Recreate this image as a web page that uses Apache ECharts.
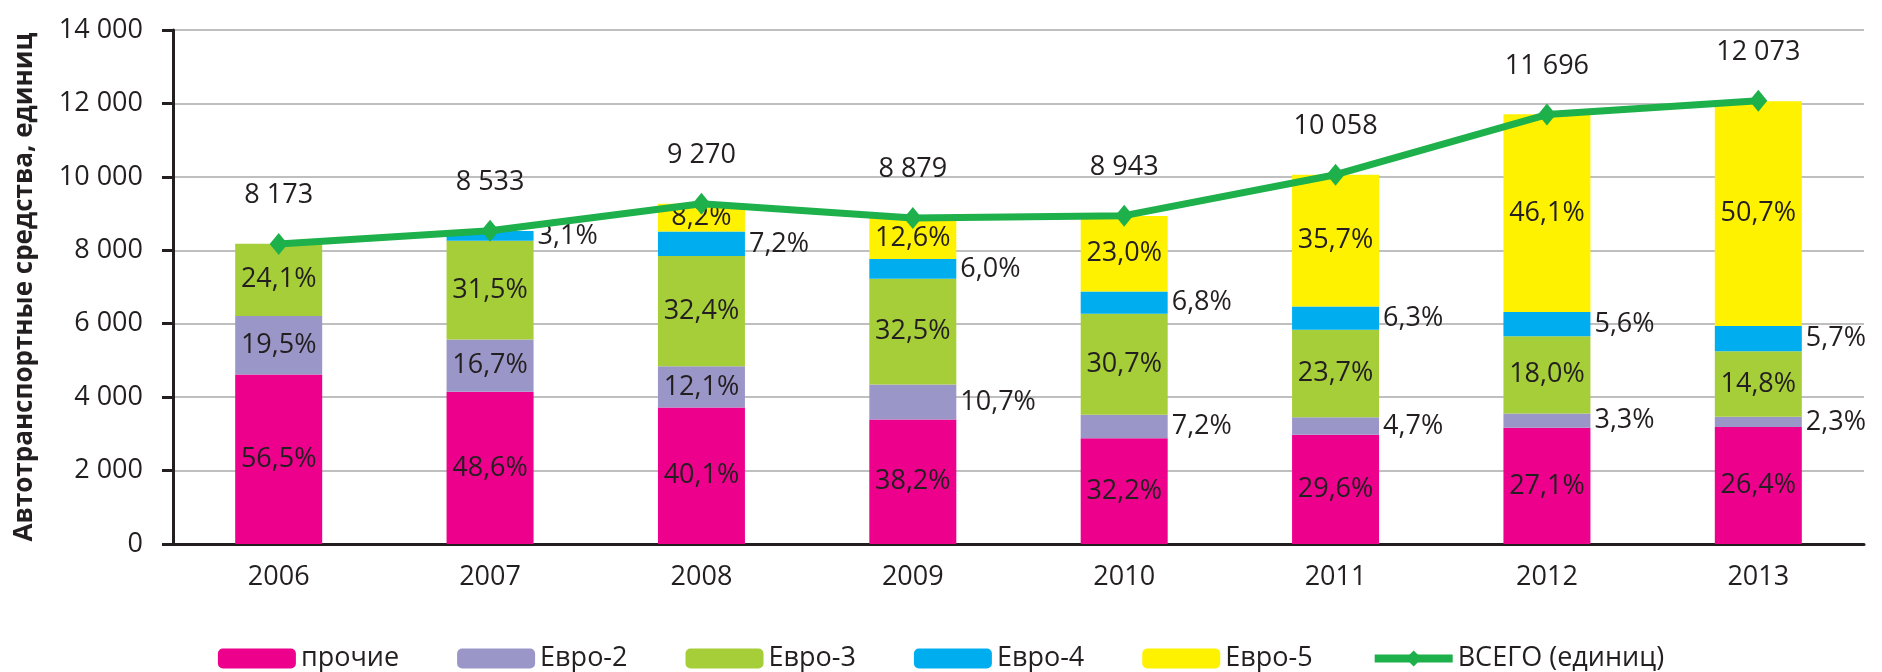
<!DOCTYPE html>
<html>
<head>
<meta charset="utf-8">
<title>Автотранспортные средства</title>
<script src="https://cdn.jsdelivr.net/npm/echarts@6/dist/echarts.min.js"></script>
<style>
	html, body { margin: 0; padding: 0; background: #fff; }
	#chart { width: 1882px; height: 672px; }
</style>
</head>
<body>
<div id="chart"></div>
<script>
	// годы и итог по парку (единиц)
	var years = ['2006', '2007', '2008', '2009', '2010', '2011', '2012', '2013'];
	var totals = [8173, 8533, 9270, 8879, 8943, 10058, 11696, 12073];

	// доли экологических классов, %
	var shareOther = [56.5, 48.6, 40.1, 38.2, 32.2, 29.6, 27.1, 26.4];
	var shareEuro2 = [19.5, 16.7, 12.1, 10.7, 7.2, 4.7, 3.3, 2.3];
	var shareEuro3 = [24.1, 31.5, 32.4, 32.5, 30.7, 23.7, 18.0, 14.8];
	var shareEuro4 = [0, 3.1, 7.2, 6.0, 6.8, 6.3, 5.6, 5.7];
	var shareEuro5 = [0, 0, 8.2, 12.6, 23.0, 35.7, 46.1, 50.7];

	var yTicks = [0, 2000, 4000, 6000, 8000, 10000, 12000, 14000];

	var textColor = '#231F20';
	var fontFamily = '"Open Sans", "Liberation Sans", sans-serif';

	function spaced(v) {
		return String(v).replace(/\B(?=(\d{3})+(?!\d))/g, ' ');
	}
	function pct(v) {
		return v.toFixed(1).replace('.', ',') + '%';
	}

	// строит сегменты стека: доля * итог
	function segment(shares, labelPos) {
		var out = [];
		for (var i = 0; i < shares.length; i++) {
			var item = {
				value: totals[i] * shares[i] / 100,
				share: shares[i]
			};
			var pos = typeof labelPos === 'function' ? labelPos(shares[i]) : labelPos;
			item.label = { position: pos };
			out.push(item);
		}
		return out;
	}

	function barSeries(name, color, shares, labelPos) {
		return {
			name: name,
			type: 'bar',
			stack: 'total',
			barWidth: 87,
			itemStyle: { color: color },
			label: {
				show: true,
				color: textColor,
				fontFamily: fontFamily,
				fontSize: 27,
				distance: 4,
				formatter: function (p) {
					return p.data.share > 0 ? pct(p.data.share) : '';
				}
			},
			data: segment(shares, labelPos)
		};
	}

	var chart = echarts.init(document.getElementById('chart'));
	chart.setOption({
		animation: false,
		backgroundColor: '#fff',
		textStyle: { fontFamily: fontFamily, color: textColor },
		grid: { left: 173, right: 18, top: 30, bottom: 128 },
		legend: {
			left: 'center',
			top: 640,
			itemWidth: 78,
			itemHeight: 20,
			itemGap: 58,
			textStyle: { color: textColor, fontSize: 27, fontFamily: fontFamily },
			data: [
				'прочие', 'Евро-2', 'Евро-3', 'Евро-4', 'Евро-5',
				{ name: 'ВСЕГО (единиц)', lineStyle: { width: 8 } }
			]
		},
		xAxis: {
			type: 'category',
			data: years,
			axisLine: { lineStyle: { color: '#231F20', width: 3 } },
			axisTick: { length: 11, lineStyle: { color: '#231F20', width: 3 } },
			axisLabel: { color: textColor, fontSize: 27, margin: 20, fontFamily: fontFamily }
		},
		yAxis: {
			type: 'value',
			min: yTicks[0],
			max: yTicks[yTicks.length - 1],
			interval: yTicks[1] - yTicks[0],
			name: 'Автотранспортные средства, единиц',
			nameLocation: 'middle',
			nameGap: 135,
			nameTextStyle: { fontSize: 26, fontWeight: 'bold', color: textColor, fontFamily: fontFamily },
			axisLine: { show: true, lineStyle: { color: '#231F20', width: 3 } },
			axisTick: { show: true, length: 11, lineStyle: { color: '#231F20', width: 3 } },
			axisLabel: {
				color: textColor, fontSize: 27, margin: 30, fontFamily: fontFamily,
				formatter: function (v) { return spaced(v); }
			},
			splitLine: { lineStyle: { color: '#BFBFBF', width: 2 } }
		},
		series: [
			barSeries('прочие', '#EC008C', shareOther, 'inside'),
			barSeries('Евро-2', '#9B96C8', shareEuro2, function (s) { return s >= 12 ? 'inside' : 'right'; }),
			barSeries('Евро-3', '#A6CE39', shareEuro3, 'inside'),
			barSeries('Евро-4', '#00AEEF', shareEuro4, 'right'),
			barSeries('Евро-5', '#FFF200', shareEuro5, 'inside'),
			{
				name: 'ВСЕГО (единиц)',
				type: 'line',
				z: 5,
				symbol: 'diamond',
				symbolSize: [18, 22],
				itemStyle: { color: '#1DB04B' },
				lineStyle: { color: '#1DB04B', width: 7 },
				label: {
					show: true,
					position: 'top',
					distance: 24,
					color: textColor,
					fontSize: 27,
					fontFamily: fontFamily,
					formatter: function (p) { return spaced(p.value); }
				},
				data: totals
			}
		]
	});
</script>
</body>
</html>
